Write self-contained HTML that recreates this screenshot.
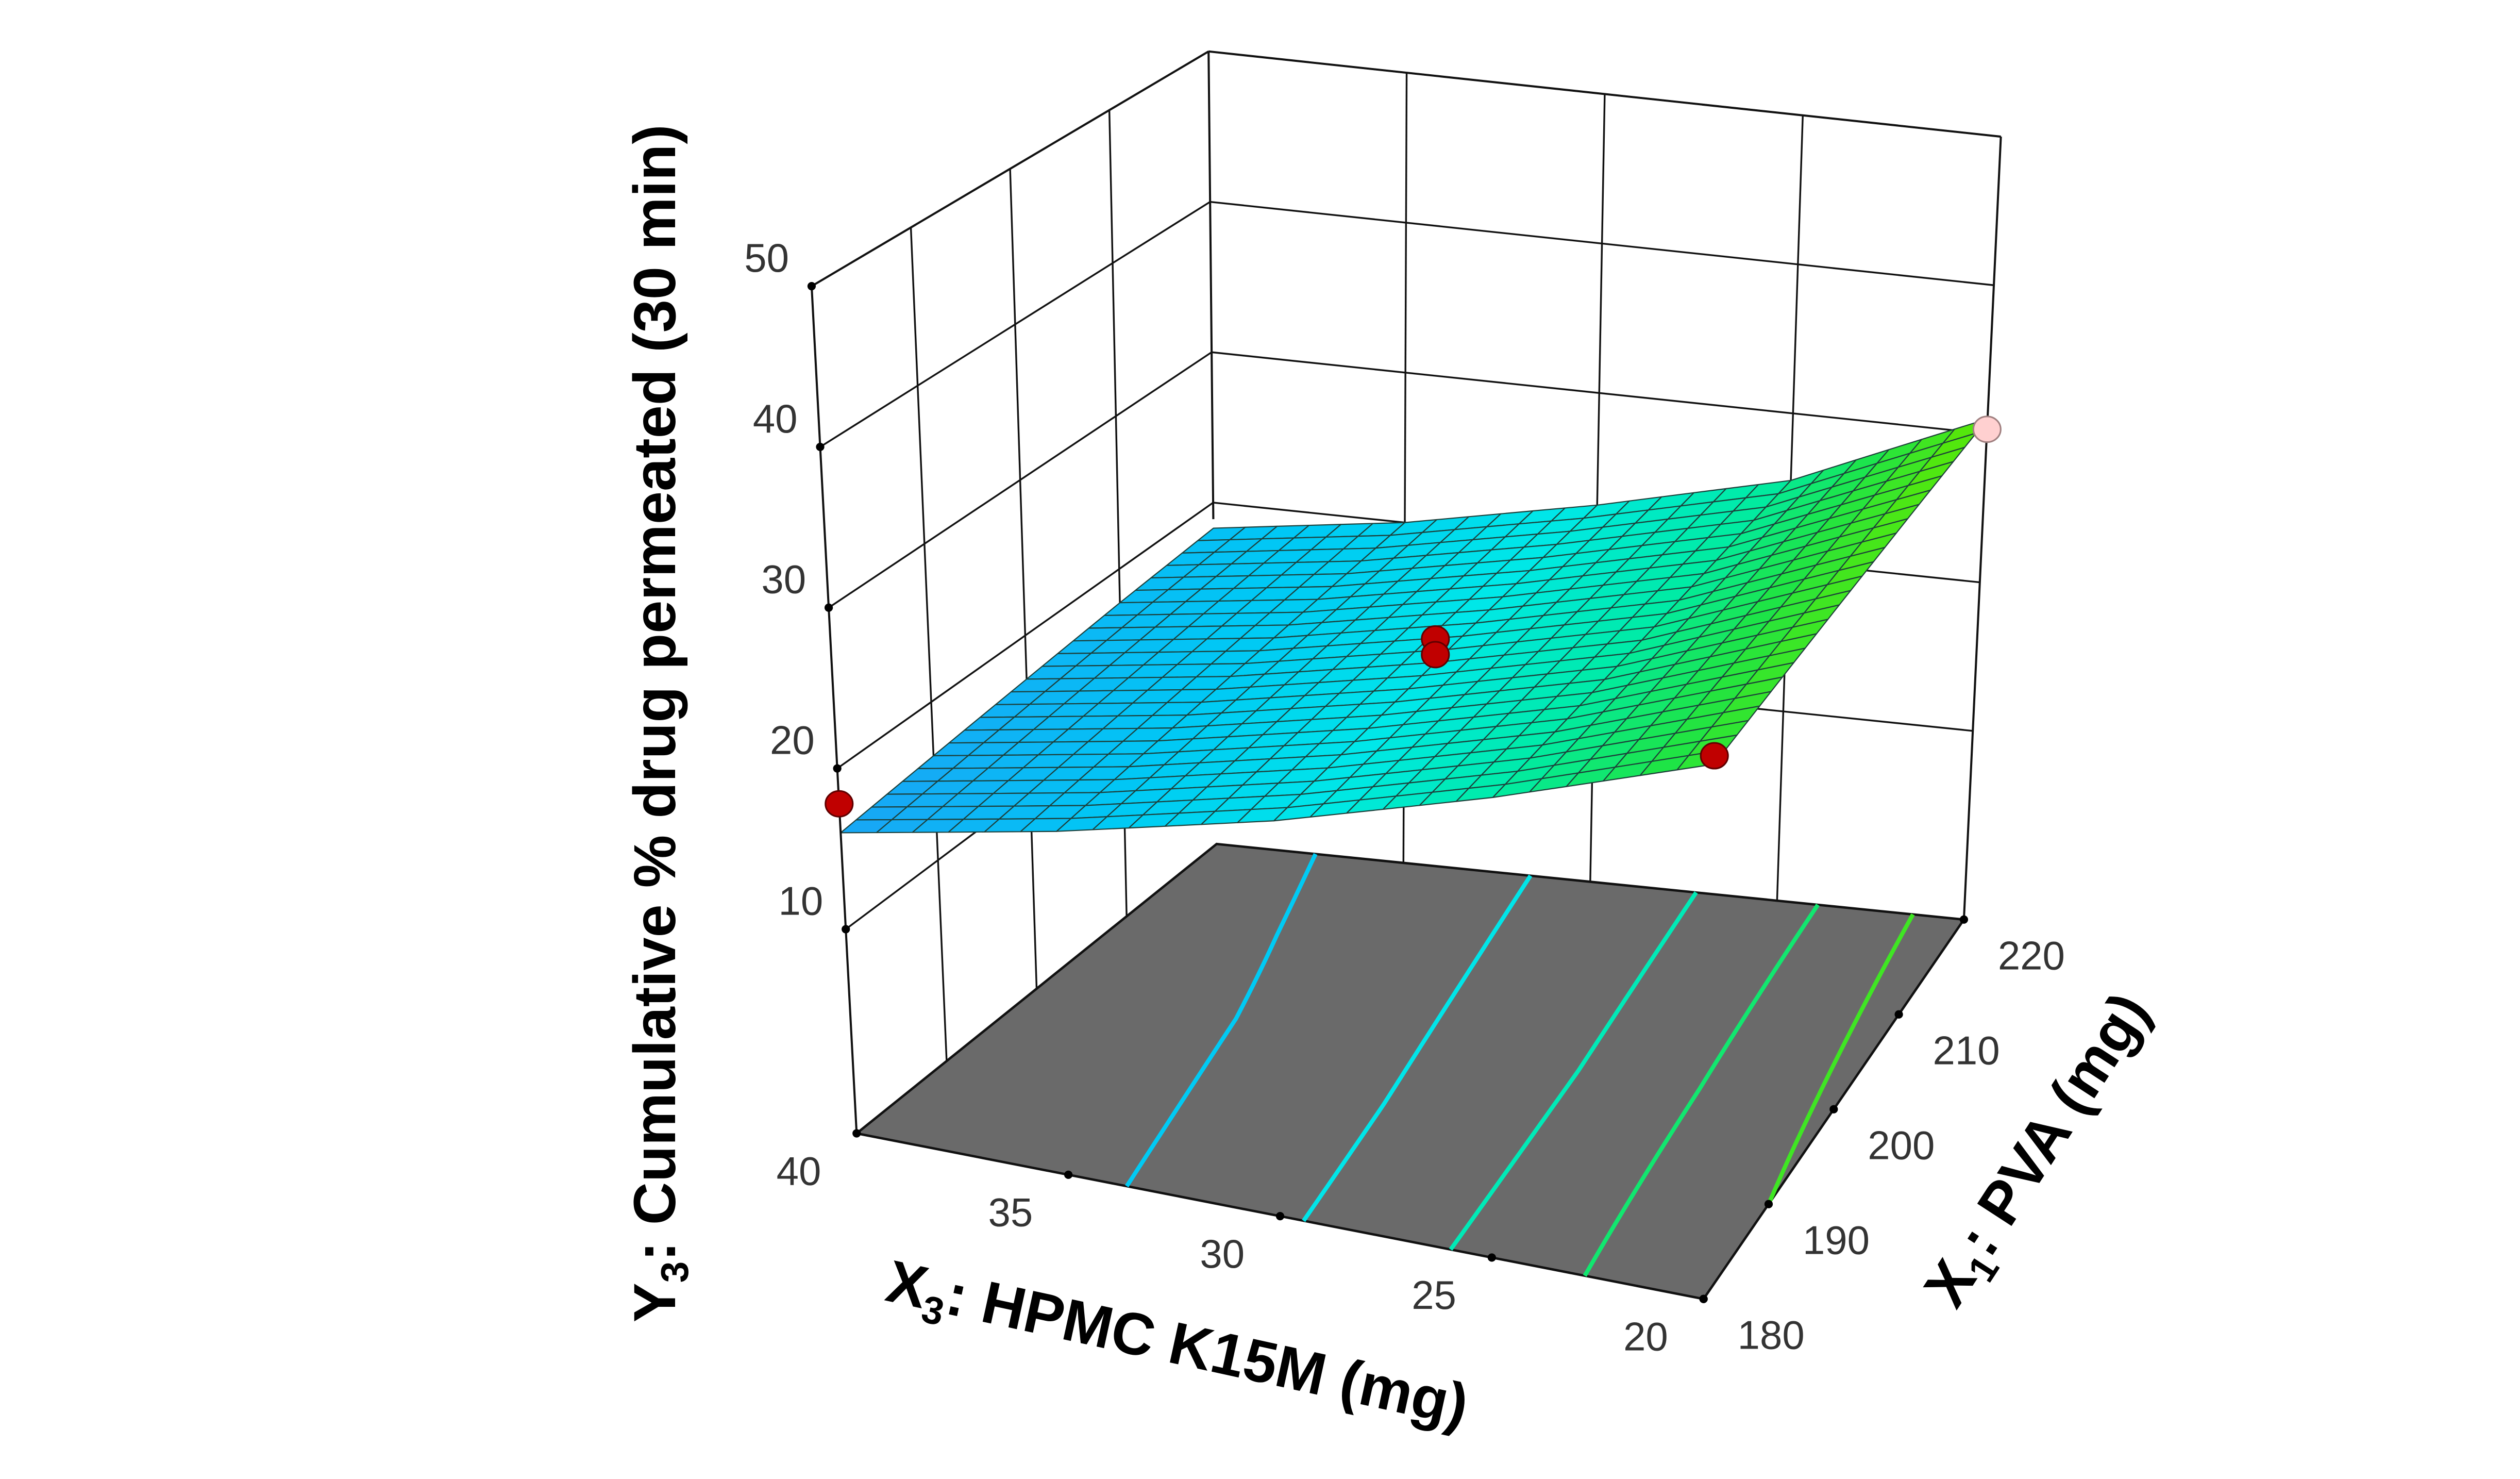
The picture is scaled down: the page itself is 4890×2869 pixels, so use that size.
<!DOCTYPE html>
<html><head><meta charset="utf-8"><style>
html,body{margin:0;padding:0;background:#fff;}
svg{display:block;}
text{font-family:"Liberation Sans",sans-serif;}
</style></head><body>
<svg id="chart" width="4890" height="2869" viewBox="0 0 1568 920" xmlns="http://www.w3.org/2000/svg">
<g id="walls"></g>
<g id="floor"></g>
<g id="surface"></g>
<g id="frame"></g>
<g id="points"></g>
<g id="labels"></g>
<text transform="translate(420,450) rotate(-90)" text-anchor="middle" font-size="37" font-weight="bold" fill="#000">Y<tspan font-size="24" dy="8">3</tspan><tspan dy="-8">: Cumulative % drug permeated (30 min)</tspan></text>
<text transform="translate(730,848) rotate(12.3)" text-anchor="middle" font-size="37" font-weight="bold" fill="#000">X<tspan font-size="24" dy="8">3</tspan><tspan dy="-8">: HPMC K15M (mg)</tspan></text>
<text transform="translate(1278,722) rotate(-57)" text-anchor="middle" font-size="37" font-weight="bold" fill="#000">X<tspan font-size="24" dy="8">1</tspan><tspan dy="-8">: PVA (mg)</tspan></text>
</svg>
<script>
// ---- data ----
const x3Levels = [40, 35, 30, 25, 20];
const x1Levels = [180, 190, 200, 210, 220];
// response grid: rows = x1Levels, cols = x3Levels
const zRow180 = [16.0, 18.4, 21.3, 24.9, 29.0];
const zRow190 = [16.6, 18.8, 21.6, 25.0, 29.5];
const zRow200 = [17.2, 19.2, 21.9, 25.1, 30.0];
const zRow210 = [17.8, 19.6, 22.2, 25.3, 30.5];
const zRow220 = [18.3, 20.0, 22.5, 25.5, 31.0];
const zTicks = [10, 20, 30, 40, 50];
const contourLevels = [19.2, 21.7, 24.2, 26.7, 29.5];
const ptX3 = [40, 20, 30, 30, 20];
const ptX1 = [180, 180, 200, 200, 220];
const ptY  = [17.8, 29.5, 23.4, 22.4, 30.3];
const ptBelow = [false, false, false, false, true];

const NS = "http://www.w3.org/2000/svg";
const zGrid = [zRow180, zRow190, zRow200, zRow210, zRow220];
const ZF = -2.7, ZT = 50;
const BOT = {A:[533,705], B:[1060,808], C:[1222,572], D:[757,525]};
const TOP = {A:[505,178], B:[1071,255], C:[1245,85],  D:[752,32]};
function uOf(x3){ return (x3Levels[0]-x3)/(x3Levels[0]-x3Levels[x3Levels.length-1]); }
function vOf(x1){ return (x1-x1Levels[0])/(x1Levels[x1Levels.length-1]-x1Levels[0]); }
function bil(P,u,v){
  const x=P.A[0]*(1-u)*(1-v)+P.B[0]*u*(1-v)+P.D[0]*(1-u)*v+P.C[0]*u*v;
  const y=P.A[1]*(1-u)*(1-v)+P.B[1]*u*(1-v)+P.D[1]*(1-u)*v+P.C[1]*u*v;
  return [x,y];
}
function proj(u,v,z){
  const b=bil(BOT,u,v), t=bil(TOP,u,v), s=(z-ZF)/(ZT-ZF);
  return [b[0]+s*(t[0]-b[0]), b[1]+s*(t[1]-b[1])];
}
function zAt(u,v){
  const n=x3Levels.length-1, m=x1Levels.length-1;
  let fi=u*n, fj=v*m; let i=Math.min(Math.floor(fi),n-1), j=Math.min(Math.floor(fj),m-1);
  const a=fi-i, b=fj-j;
  return zGrid[j][i]*(1-a)*(1-b)+zGrid[j][i+1]*a*(1-b)+zGrid[j+1][i]*(1-a)*b+zGrid[j+1][i+1]*a*b;
}
const cStops=[[16,[25,165,245]],[19,[0,200,245]],[22,[0,232,232]],[25,[0,235,165]],[28,[30,228,70]],[31,[95,232,0]]];
function cmap(z){
  if(z<=cStops[0][0]) return 'rgb('+cStops[0][1]+')';
  for(let k=1;k<cStops.length;k++){ if(z<=cStops[k][0]){ const t=(z-cStops[k-1][0])/(cStops[k][0]-cStops[k-1][0]);
    const c=cStops[k-1][1].map((q,i)=>Math.round(q+t*(cStops[k][1][i]-q))); return 'rgb('+c+')'; } }
  return 'rgb('+cStops[cStops.length-1][1]+')';
}
function mk(tag,parent,attrs){ const e=document.createElementNS(NS,tag); for(const k in attrs) e.setAttribute(k,attrs[k]); parent.appendChild(e); return e; }
function line(parent,p,q,w,col){ return mk('line',parent,{x1:p[0],y1:p[1],x2:q[0],y2:q[1],stroke:col||'#111','stroke-width':w||1}); }
const walls=document.getElementById('walls'), floor=document.getElementById('floor'), surf=document.getElementById('surface'),
 frame=document.getElementById('frame'), pts=document.getElementById('points'), labels=document.getElementById('labels');

zTicks.forEach(z=>{
  const l1=line(walls,proj(0,0,z),proj(0,1,z),1.1);
   
  const l2=line(walls,proj(0,1,z),proj(1,1,z),1.1);
   
});
x1Levels.slice(1,-1).forEach(x1=>{ const v=vOf(x1);
  const l=line(walls,proj(0,v,ZF),proj(0,v,ZT),1.1);
    });
x3Levels.slice(1,-1).forEach(x3=>{ const u=uOf(x3);
  const l=line(walls,proj(u,1,ZF),proj(u,1,ZT),1.1);
    });

const fp=[BOT.A,BOT.B,BOT.C,BOT.D].map(p=>p.join(',')).join(' ');
const fl=mk('polygon',floor,{points:fp,fill:'#6a6a6a',stroke:'#111','stroke-width':1.5});
 
contourLevels.forEach(L=>{
  let d='';
  for(let k=0;k<=80;k++){ const v=k/80;
    let lo=0,hi=1; if((zAt(0,v)-L)*(zAt(1,v)-L)>0) continue;
    for(let it=0;it<30;it++){ const mid=(lo+hi)/2; if((zAt(lo,v)-L)*(zAt(mid,v)-L)<=0) hi=mid; else lo=mid; }
    const p=proj((lo+hi)/2,v,ZF); d+=(d?'L':'M')+p[0].toFixed(2)+','+p[1].toFixed(2);
  }
  const c=mk('path',floor,{d:d,fill:'none',stroke:cmap(L),'stroke-width':2.6});
   
});

const N=24, cells=[];
for(let i=0;i<N;i++) for(let j=0;j<N;j++) cells.push([i,j]);
cells.sort((a,b)=>(a[0]-a[1])-(b[0]-b[1]));
cells.forEach(([i,j])=>{
  const u0=i/N,u1=(i+1)/N,v0=j/N,v1=(j+1)/N;
  const q=[[u0,v0],[u1,v0],[u1,v1],[u0,v1]].map(([u,v])=>proj(u,v,zAt(u,v)));
  const zc=zAt((u0+u1)/2,(v0+v1)/2);
  const p=mk('polygon',surf,{points:q.map(p=>p[0].toFixed(2)+','+p[1].toFixed(2)).join(' '),fill:cmap(zc),stroke:'#1d3f3a','stroke-width':0.7,'stroke-linejoin':'round'});
   
});

[[proj(0,0,ZF),proj(0,0,ZT)],[proj(1,1,ZF),proj(1,1,ZT)],[proj(0,1,ZT),proj(0,0,ZT)],[proj(0,1,ZT),proj(1,1,ZT)]].forEach(s=>{
  const l=line(frame,s[0],s[1],1.3);
   
});
const backTop=line(frame,proj(0,1,ZT),proj(0,1,zAt(0,1)+0.6),1.3);
 
zTicks.forEach(z=>{ const p=proj(0,0,z);
  const c=mk('circle',frame,{cx:p[0],cy:p[1],r:2.6,fill:'#000'});
   
  const t=mk('text',labels,{x:p[0]-28,y:p[1]-9,'text-anchor':'middle','font-size':25,fill:'#333'}); t.textContent=z;
   
});
x3Levels.forEach(x3=>{ const p=proj(uOf(x3),0,ZF);
  const c=mk('circle',frame,{cx:p[0],cy:p[1],r:2.6,fill:'#000'});
   
  const t=mk('text',labels,{x:p[0]-36,y:p[1]+32,'text-anchor':'middle','font-size':25,fill:'#333'}); t.textContent=x3;
   
});
x1Levels.forEach(x1=>{ const p=proj(1,vOf(x1),ZF);
  const c=mk('circle',frame,{cx:p[0],cy:p[1],r:2.6,fill:'#000'});
   
  const t=mk('text',labels,{x:p[0]+42,y:p[1]+31,'text-anchor':'middle','font-size':25,fill:'#333'}); t.textContent=x1;
   
});

ptY.forEach((y,k)=>{ const p=proj(uOf(ptX3[k]),vOf(ptX1[k]),y);
  const c=mk('ellipse',pts,{cx:p[0],cy:p[1],rx:8.5,ry:8,fill:ptBelow[k]?'#ffd0d0':'#c00000',stroke:ptBelow[k]?'#a08080':'#600000','stroke-width':1});
   
});
</script>
</body></html>
